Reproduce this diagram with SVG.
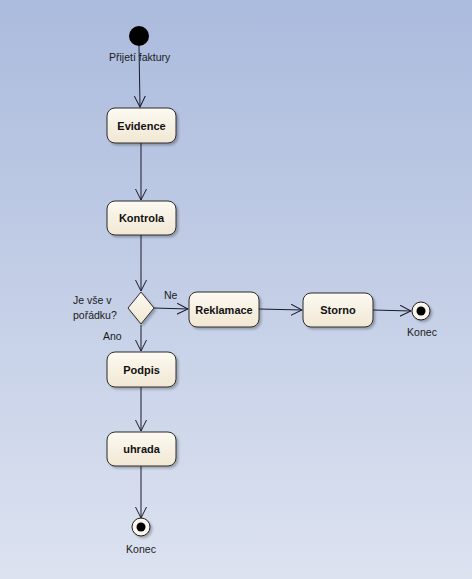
<svg xmlns="http://www.w3.org/2000/svg" width="472" height="579" viewBox="0 0 472 579">
<defs>
<linearGradient id="bg" x1="0" y1="0" x2="0" y2="1">
<stop offset="0" stop-color="#abbbdd"/>
<stop offset="1" stop-color="#dce2f0"/>
</linearGradient>
<linearGradient id="nodeFill" x1="0" y1="0" x2="0" y2="1">
<stop offset="0" stop-color="#fdfaf2"/>
<stop offset="1" stop-color="#f1e7d3"/>
</linearGradient>
<marker id="arr" viewBox="0 0 12 12" refX="11" refY="6" markerWidth="12" markerHeight="12" markerUnits="userSpaceOnUse" orient="auto">
<path d="M0,0.5 L11,6 L0,11.5" fill="none" stroke="#1a1a2a" stroke-width="1"/>
</marker>
<filter id="sh" x="-20%" y="-20%" width="150%" height="150%">
<feDropShadow dx="2" dy="2" stdDeviation="1" flood-color="#000" flood-opacity="0.25"/>
</filter>
</defs>
<style>
.box{fill:url(#nodeFill);stroke:#2b2b2b;stroke-width:1;filter:url(#sh)}
.bt{font-family:"Liberation Sans",Arial,sans-serif;font-size:11px;font-weight:bold;fill:#111;text-anchor:middle}
.lb{font-family:"Liberation Sans",Arial,sans-serif;font-size:10.5px;fill:#1a1a1a}
.ln{fill:none;stroke:#1a1a2a;stroke-width:1;marker-end:url(#arr)}
</style>
<rect x="0" y="0" width="472" height="579" fill="url(#bg)"/>
<g id="connectors">
<path class="ln" d="M139,46 L140,107"/>
<path class="ln" d="M141,143 L141,200"/>
<path class="ln" d="M141,235 L141,291"/>
<path class="ln" d="M154,308 L188,309"/>
<path class="ln" d="M259,309 L302,310"/>
<path class="ln" d="M373,310 L411,311"/>
<path class="ln" d="M141,325 L141,351"/>
<path class="ln" d="M141,387 L141,431"/>
<path class="ln" d="M141,466 L141,518"/>
</g>
<g id="start">
<circle cx="139" cy="36" r="10" fill="#000"/>
<text class="lb" x="109" y="61">Přijetí faktury</text>
</g>
<g id="evidence">
<rect class="box" x="107" y="108" width="69" height="35" rx="8"/>
<text class="bt" x="141.5" y="129.5">Evidence</text>
</g>
<g id="kontrola">
<rect class="box" x="107" y="201" width="69" height="34" rx="8"/>
<text class="bt" x="141.5" y="222">Kontrola</text>
</g>
<g id="decision">
<path class="box" d="M141,292 L154,308 L141,324 L128,308 Z"/>
<text class="lb" x="73" y="304">Je vše v</text>
<text class="lb" x="73" y="319">pořádku?</text>
<text class="lb" x="164" y="299">Ne</text>
<text class="lb" x="103" y="340">Ano</text>
</g>
<g id="reklamace">
<rect class="box" x="189" y="292" width="70" height="35" rx="8"/>
<text class="bt" x="224" y="313.5">Reklamace</text>
</g>
<g id="storno">
<rect class="box" x="303" y="293" width="70" height="34" rx="8"/>
<text class="bt" x="338" y="314">Storno</text>
</g>
<g id="end1">
<circle cx="421" cy="311" r="9" fill="#fbf7ee" stroke="#1a1a1a" stroke-width="1" filter="url(#sh)"/>
<circle cx="421" cy="311" r="4.5" fill="#000"/>
<text class="lb" x="422" y="336" text-anchor="middle">Konec</text>
</g>
<g id="podpis">
<rect class="box" x="107" y="352" width="69" height="35" rx="8"/>
<text class="bt" x="141.5" y="373.5">Podpis</text>
</g>
<g id="uhrada">
<rect class="box" x="107" y="432" width="69" height="34" rx="8"/>
<text class="bt" x="141.5" y="453">uhrada</text>
</g>
<g id="end2">
<circle cx="141" cy="527" r="9" fill="#fbf7ee" stroke="#1a1a1a" stroke-width="1" filter="url(#sh)"/>
<circle cx="141" cy="527" r="4.5" fill="#000"/>
<text class="lb" x="141" y="553" text-anchor="middle">Konec</text>
</g>
</svg>
